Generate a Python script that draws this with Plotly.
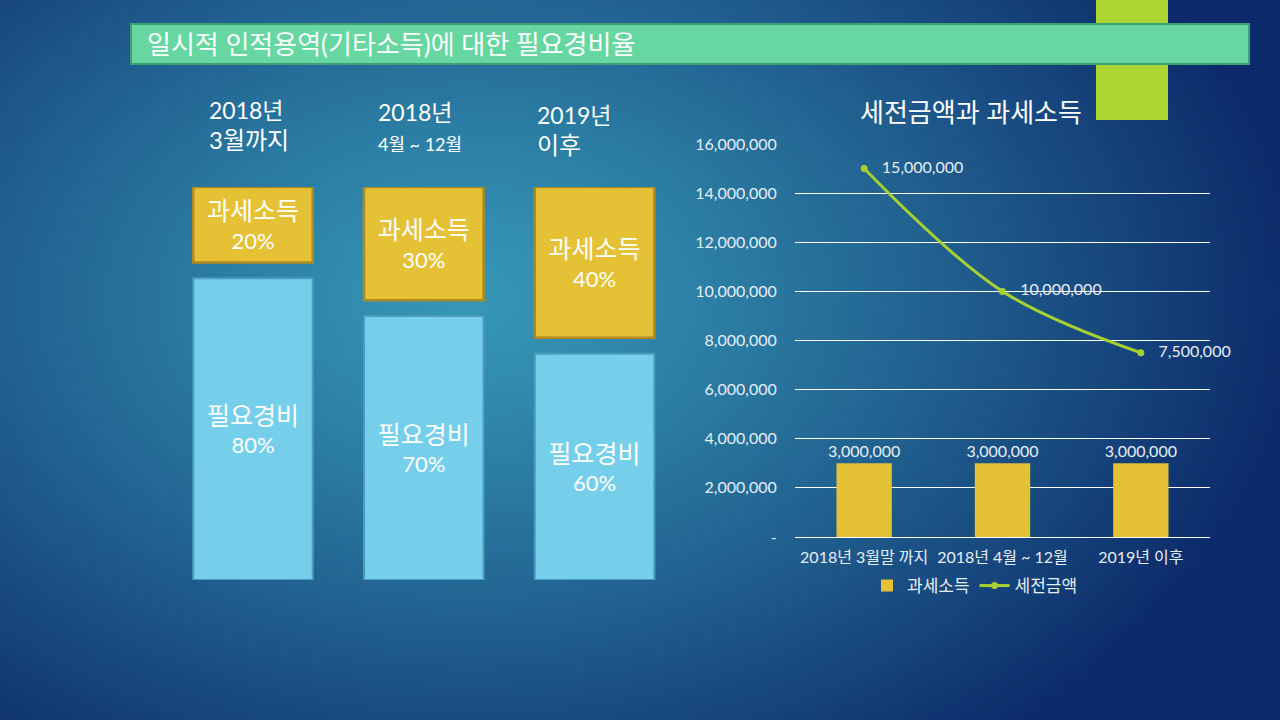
import base64, struct, zlib
import numpy as np
import plotly.graph_objects as go

# ---------------- data ----------------
title_text = "일시적 인적용역(기타소득)에 대한 필요경비율"
header_years = ["2018년", "2018년", "2019년"]
header_periods = ["3월까지", "4월 ~ 12월", "이후"]
left_periods = ["2018년 3월까지", "2018년 4월 ~ 12월", "2019년 이후"]
taxable_pct = [20, 30, 40]          # 과세소득 %
expense_pct = [80, 70, 60]          # 필요경비 %
taxable_label = "과세소득"
expense_label = "필요경비"

chart_title = "세전금액과 과세소득"
right_categories = ["2018년 3월말 까지", "2018년 4월 ~ 12월", "2019년 이후"]
taxable_income = [3000000, 3000000, 3000000]     # 과세소득
pretax_amount = [15000000, 10000000, 7500000]    # 세전금액
y_ticks = [0, 2000000, 4000000, 6000000, 8000000, 10000000, 12000000, 14000000, 16000000]
y_ticktext = ["-"] + [f"{v:,}" for v in y_ticks[1:]]

# ---------------- style ----------------
FONT = "Lato, 'Noto Sans CJK KR', sans-serif"
WHITE = "#FFFFFF"
TICK = "#E6EEF5"
YELLOW = "#E4C135"
YELLOW_EDGE = "#B08A1E"
BLUE = "#75CFEB"
BLUE_EDGE = "#4B9CBE"
LIME = "#A9D032"
GAP = 4.2
PAD = "\u00a0\u00a0\u00a0"

# ---------------- background gradient image ----------------
W, H = 160, 90
yy, xx = np.mgrid[0:H, 0:W]
px = (xx + 0.5) * 1280 / W
py = (yy + 0.5) * 720 / H
d = np.sqrt(((px - 470) / 840) ** 2 + ((py - 300) / 580) ** 2)
t = np.clip(d, 0, 1) ** 1.2
c0 = np.array([0x36, 0x98, 0xB6], dtype=float)
c1 = np.array([0x0C, 0x29, 0x69], dtype=float)
img = (c0 * (1 - t)[..., None] + c1 * t[..., None]).clip(0, 255).astype(np.uint8)
raw = b"".join(b"\x00" + img[r].tobytes() for r in range(H))


def _chunk(tag, data):
    return struct.pack(">I", len(data)) + tag + data + struct.pack(">I", zlib.crc32(tag + data) & 0xFFFFFFFF)


png = (b"\x89PNG\r\n\x1a\n" + _chunk(b"IHDR", struct.pack(">IIBBBBB", W, H, 8, 2, 0, 0, 0))
       + _chunk(b"IDAT", zlib.compress(raw, 9)) + _chunk(b"IEND", b""))
bg_src = "data:image/png;base64," + base64.b64encode(png).decode()


def kr(txt, size):
    return f"<span style='font-size:{size}px'>{txt}</span>"


fig = go.Figure()

# ---------------- left: ratio boxes ----------------
fig.add_trace(go.Bar(
    x=left_periods, y=expense_pct, base=[0] * 3, width=0.7,
    marker=dict(color=BLUE, line=dict(color=BLUE_EDGE, width=2)),
    text=[f"{kr(expense_label, 25)}<br>{v}%" for v in expense_pct],
    textposition="inside", insidetextanchor="middle", textangle=0,
    textfont=dict(family=FONT, size=22, color=WHITE),
    xaxis="x", yaxis="y", showlegend=False, hoverinfo="skip"))
fig.add_trace(go.Bar(
    x=left_periods, y=taxable_pct, base=[e + GAP for e in expense_pct], width=0.7,
    marker=dict(color=YELLOW, line=dict(color=YELLOW_EDGE, width=2.5)),
    text=[f"{kr(taxable_label, 25)}<br>{v}%" for v in taxable_pct],
    textposition="inside", insidetextanchor="middle", textangle=0,
    textfont=dict(family=FONT, size=22, color=WHITE),
    xaxis="x", yaxis="y", showlegend=False, hoverinfo="skip"))

# ---------------- right: combo chart ----------------
fig.add_trace(go.Bar(
    x=right_categories, y=taxable_income, width=0.4, name="과세소득",
    marker=dict(color=YELLOW),
    text=[f"{v:,}" for v in taxable_income], textposition="outside", constraintext="none",
    textfont=dict(family=FONT, size=16, color=TICK), cliponaxis=False,
    xaxis="x2", yaxis="y2"))
fig.add_trace(go.Scatter(
    x=right_categories, y=pretax_amount, name="세전금액",
    mode="lines+markers+text", line=dict(color=LIME, width=3, shape="spline", smoothing=1),
    marker=dict(color=LIME, size=7),
    text=[f"{PAD}{v:,}" for v in pretax_amount], textposition="middle right",
    textfont=dict(family=FONT, size=16, color=TICK), cliponaxis=False,
    xaxis="x2", yaxis="y2"))

# ---------------- header annotations ----------------
annotations = [
    dict(text=title_text, x=145 / 1280, y=1 - 44 / 720, xref="paper", yref="paper",
         xanchor="left", yanchor="middle", showarrow=False,
         font=dict(family=FONT, size=26, color=WHITE)),
    dict(text=chart_title, x=971 / 1280, y=1 - 112 / 720, xref="paper", yref="paper",
         xanchor="center", yanchor="middle", showarrow=False,
         font=dict(family=FONT, size=26, color=WHITE)),
]
header_x = [207, 376, 535]
header_y = [125, 126, 130]
for i in range(3):
    size2 = 18 if i == 1 else 24
    txt = f"{header_years[i]}<br>{kr(header_periods[i], size2)}"
    annotations.append(dict(text=txt, x=header_x[i] / 1280, y=1 - header_y[i] / 720,
                            xref="paper", yref="paper", xanchor="left", yanchor="middle",
                            align="left", showarrow=False,
                            font=dict(family=FONT, size=23, color=WHITE)))

shapes = [
    dict(type="rect", xref="paper", yref="paper", x0=1096 / 1280, x1=1168 / 1280,
         y0=1 - 120 / 720, y1=1, fillcolor="#ACD433", line=dict(width=0), layer="above"),
    dict(type="rect", xref="paper", yref="paper", x0=131 / 1280, x1=1249 / 1280,
         y0=1 - 64 / 720, y1=1 - 24 / 720, fillcolor="#66D7A0",
         line=dict(color="#3E9F77", width=2), layer="above"),
]

fig.update_layout(
    template="none",
    autosize=False,
    width=1280, height=720, margin=dict(l=0, r=0, t=0, b=0, pad=0, autoexpand=False),
    paper_bgcolor="#0E2C6C", plot_bgcolor="rgba(0,0,0,0)",
    barmode="overlay",
    font=dict(family=FONT, color=WHITE),
    images=[dict(source=bg_src, xref="paper", yref="paper", x=0, y=1, sizex=1, sizey=1,
                 sizing="stretch", xanchor="left", yanchor="top", layer="below")],
    annotations=annotations, shapes=shapes,
    xaxis=dict(domain=[167.6 / 1280, 680 / 1280], visible=False, fixedrange=True,
               automargin=False),
    yaxis=dict(domain=[1 - 580 / 720, 1 - 187 / 720], range=[0, 100 + GAP], visible=False,
               fixedrange=True, automargin=False),
    xaxis2=dict(domain=[795 / 1280, 1210 / 1280], anchor="y2", tickangle=0, automargin=False,
                tickfont=dict(family=FONT, size=16, color=TICK), showgrid=False,
                showline=False, zeroline=False, ticks="outside", ticklen=6,
                tickcolor="rgba(0,0,0,0)"),
    yaxis2=dict(domain=[1 - 537 / 720, 1 - 144 / 720], anchor="x2", range=[0, 16000000],
                tickvals=y_ticks, ticktext=y_ticktext, automargin=False,
                tickfont=dict(family=FONT, size=16, color=TICK),
                showgrid=True, gridcolor="#FFFFFF", gridwidth=1,
                zeroline=True, zerolinecolor="#FFFFFF", zerolinewidth=1,
                showline=False, ticks="outside", ticklen=14, tickcolor="rgba(0,0,0,0)"),
    legend=dict(orientation="h", x=975 / 1280, y=1 - 586 / 720, xanchor="center",
                yanchor="middle", bgcolor="rgba(0,0,0,0)", borderwidth=0,
                font=dict(family=FONT, size=17, color=TICK)),
    showlegend=True,
)

fig.write_html("out.html", config={"displayModeBar": False},
               post_script="document.body.style.margin='0';document.body.style.overflow='hidden';")
